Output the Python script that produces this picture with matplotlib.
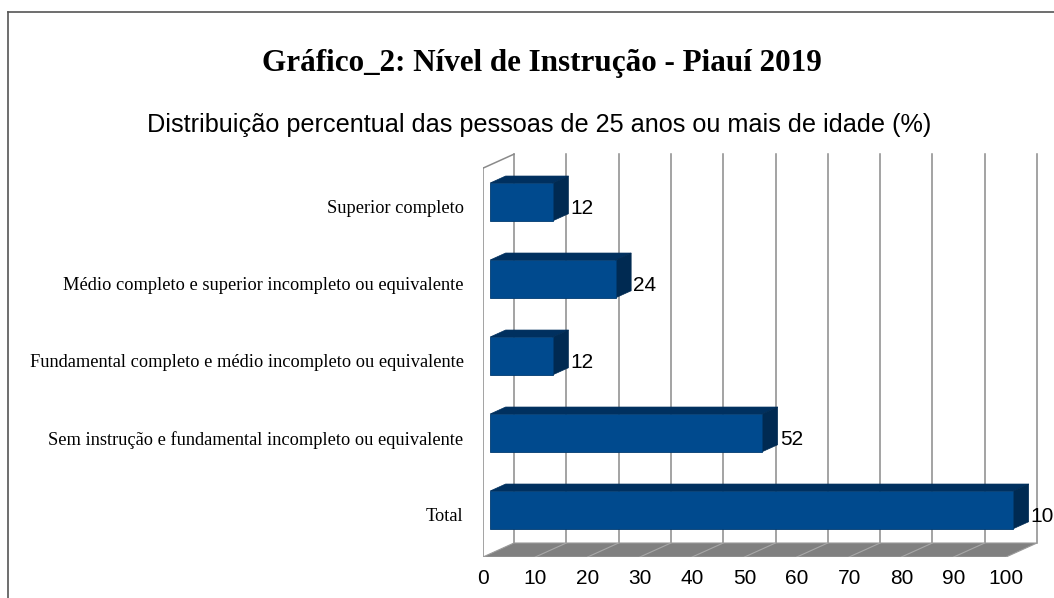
import matplotlib
matplotlib.use("Agg")
import matplotlib.pyplot as plt
from matplotlib.patches import Polygon
from matplotlib.lines import Line2D
import numpy as np

# data
categorias = ["Total",
              "Sem instrução e fundamental incompleto ou equivalente",
              "Fundamental completo e médio incompleto ou equivalente",
              "Médio completo e superior incompleto ou equivalente",
              "Superior completo"]
valores = [100, 52, 12, 24, 12]
ticks_x = list(range(0, 101, 10))
titulo = "Gráfico_2: Nível de Instrução - Piauí 2019"
subtitulo = "Distribuição percentual das pessoas de 25 anos ou mais de idade (%)"

W, H = 1054, 598
fig = plt.figure(figsize=(W / 100, H / 100), dpi=100)

# front plane: x=0 at px 483, 5.23 px per unit; categories 77 px apart
sx, sy = 5.23, 77.0
ax_left, ax_bottom_px, ax_top_px = 483, 557, 140
ax = fig.add_axes([ax_left / W, 1 - ax_bottom_px / H,
                   (W - ax_left) / W, (ax_bottom_px - ax_top_px) / H])
ylo, yhi = -0.55, 4.5
ax.set_xlim(0, (W - ax_left) / sx)
ax.set_ylim(ylo, ylo + (ax_bottom_px - ax_top_px) / sy)

# depth of the 3d box in data units
DX, DY = 31 / sx, 14 / sy
grid_c = "#8a8a8a"

# back wall grid
for t in ticks_x:
    ax.plot([DX + t, DX + t], [ylo + DY, yhi + DY], color=grid_c, lw=1.1, zorder=1)
# left wall outline
ax.plot([0, 0], [ylo, yhi], color=grid_c, lw=1.1, zorder=1)
ax.plot([0, DX], [yhi, yhi + DY], color=grid_c, lw=1.1, zorder=1)

# floor
floor = Polygon([(0, ylo), (100, ylo), (100 + DX, ylo + DY), (DX, ylo + DY)],
                closed=True, facecolor="#808080", edgecolor="#9a9a9a", lw=0.8, zorder=2)
ax.add_patch(floor)
for t in ticks_x[1:-1]:
    ax.plot([t, t + DX], [ylo, ylo + DY], color="#a8a8a8", lw=0.8, zorder=3)

# bars
a, b = 0.23, 0.73
h = 0.245
ypos = np.arange(len(categorias))
ax.barh(ypos + a * DY + 0.02, valores, height=2 * h, left=a * DX,
        color="#004A8E", edgecolor="#003A70", lw=0.6, zorder=5)
for i, v in zip(ypos, valores):
    x0 = a * DX
    yc = i + a * DY + 0.02
    top = Polygon([(x0, yc + h), (x0 + v, yc + h),
                   (b * DX + v, yc + h + (b - a) * DY), (b * DX, yc + h + (b - a) * DY)],
                  closed=True, facecolor="#00305F", edgecolor="#00305F", lw=0.5, zorder=4)
    side = Polygon([(x0 + v, yc - h), (x0 + v, yc + h),
                    (b * DX + v, yc + h + (b - a) * DY), (b * DX + v, yc - h + (b - a) * DY)],
                   closed=True, facecolor="#002A52", edgecolor="#002A52", lw=0.5, zorder=4)
    ax.add_patch(top)
    ax.add_patch(side)
    ax.text(b * DX + v + 0.4, i - 0.02, str(v), ha="left", va="center",
            fontsize=15, family="Liberation Sans", color="black", zorder=6)

ax.set_xticks(ticks_x)
ax.set_xticklabels([str(t) for t in ticks_x], fontsize=15, family="Liberation Sans")
ax.set_yticks(ypos)
ax.set_yticklabels(categorias, fontsize=13.2, family="Liberation Serif")
ax.tick_params(axis="x", length=0, pad=9)
ax.tick_params(axis="y", length=0, pad=14)
for s in ax.spines.values():
    s.set_visible(False)
ax.patch.set_alpha(0)

# chart border
bc = "#555555"
fig.add_artist(Line2D([8 / W, 8 / W], [1 - 12 / H, 0], transform=fig.transFigure, color=bc, lw=1.2))
fig.add_artist(Line2D([8 / W, 1], [1 - 12 / H, 1 - 12 / H], transform=fig.transFigure, color=bc, lw=1.2))

fig.text(542 / W, 1 - 63 / H, titulo, ha="center", va="center",
         fontsize=22.4, fontweight="bold", family="Liberation Serif")
fig.text(539 / W, 1 - 125 / H, subtitulo, ha="center", va="center",
         fontsize=18.2, family="Liberation Sans")

fig.savefig("out.png", dpi=100)
